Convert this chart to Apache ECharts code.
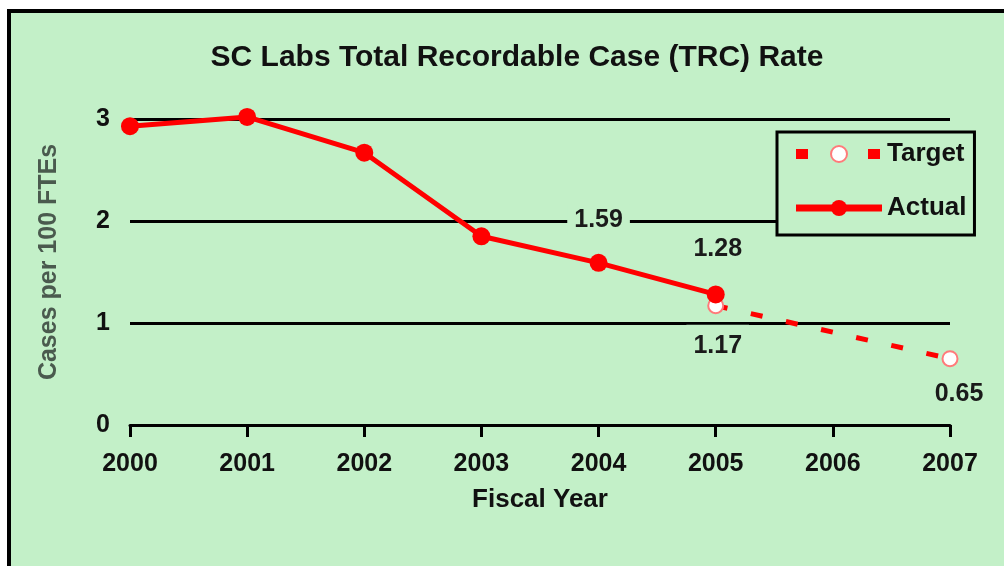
<!DOCTYPE html>
<html>
<head>
<meta charset="utf-8">
<script src="https://cdn.jsdelivr.net/npm/echarts@6/dist/echarts.min.js"></script>
<style>
  html, body { margin: 0; padding: 0; background: #ffffff; width: 1004px; height: 566px; overflow: hidden; }
  #frame { position: absolute; left: 7px; top: 9px; width: 1010px; height: 570px;
           border-left: 4px solid #000; border-top: 4px solid #000; background: #c3f0c8; }
  #chart { position: absolute; left: 0; top: 0; width: 1004px; height: 566px; }
</style>
</head>
<body>
<div id="frame"></div>
<div id="chart"></div>
<script>
const titleText = 'SC Labs Total Recordable Case (TRC) Rate';
const years = ['2000', '2001', '2002', '2003', '2004', '2005', '2006', '2007'];
const actual = [2.93, 3.02, 2.67, 1.85, 1.59, 1.28, null, null];
const target = [null, null, null, null, null, 1.17, null, 0.65];
const yTicks = [0, 1, 2, 3];
const xName = 'Fiscal Year';
const yName = 'Cases per 100 FTEs';

const BG = '#c3f0c8';
const FONT = '"Liberation Sans", Arial, sans-serif';

// label styling by point index (styles kept apart from the data)
const actualLabelStyle = {
  4: { offset: [0, -43], padding: [3, 7] },
  5: { offset: [2, -45], padding: [3, 4] }
};
const targetLabelStyle = {
  5: { offset: [2, 40], padding: [14, 7, 3, 7] },
  7: { offset: [9, 35], padding: [3, 4] }
};

function labelFor(style) {
  return {
    show: true,
    position: 'inside',
    offset: style.offset,
    padding: style.padding,
    backgroundColor: BG,
    color: '#1a1a1a',
    fontFamily: FONT,
    fontWeight: 'bold',
    fontSize: 25,
    formatter: p => p.value.toFixed(2)
  };
}

function buildData(values, styles) {
  return values.map((v, i) => {
    if (v === null) return null;
    const item = { value: v };
    item.label = styles[i] ? labelFor(styles[i]) : { show: false };
    return item;
  });
}

const chart = echarts.init(document.getElementById('chart'), null, { renderer: 'canvas' });
chart.setOption({
  backgroundColor: 'transparent',
  animation: false,
  title: {
    text: titleText,
    left: 512,
    top: 38,
    textAlign: 'center',
    textStyle: { fontFamily: FONT, fontWeight: 'bold', fontSize: 30, color: '#111' }
  },
  legend: {
    orient: 'vertical',
    left: 777,
    top: 132,
    padding: [9, 8, 14, 14],
    itemGap: 28,
    itemWidth: 86,
    itemHeight: 20,
    borderColor: '#000',
    borderWidth: 3,
    backgroundColor: BG,
    textStyle: { fontFamily: FONT, fontWeight: 'bold', fontSize: 26, color: '#111', lineHeight: 26 },
    data: [
      { name: 'Target', lineStyle: { width: 10, type: [12, 24], color: '#ff0000' } },
      { name: 'Actual', lineStyle: { width: 7, color: '#ff0000' } }
    ]
  },
  grid: { left: 130, right: 54, top: 119, bottom: 141, containLabel: false },
  xAxis: {
    type: 'category',
    data: years,
    boundaryGap: false,
    name: xName,
    nameLocation: 'middle',
    nameGap: 62,
    nameTextStyle: { fontFamily: FONT, fontWeight: 'bold', fontSize: 26, color: '#111' },
    axisLine: { lineStyle: { color: '#000', width: 3 } },
    axisTick: { show: true, length: 12, lineStyle: { color: '#000', width: 3 } },
    axisLabel: { margin: 27, fontFamily: FONT, fontWeight: 'bold', fontSize: 25, color: '#111' },
    splitLine: { show: false }
  },
  yAxis: {
    type: 'value',
    min: yTicks[0],
    max: yTicks[yTicks.length - 1],
    interval: 1,
    name: yName,
    nameLocation: 'middle',
    nameGap: 68,
    nameTextStyle: { fontFamily: FONT, fontWeight: 'bold', fontSize: 25, color: '#4a5a4e', padding: [0, 0, 0, 20] },
    axisLine: { show: false },
    axisTick: { show: false },
    axisLabel: { margin: 20, fontFamily: FONT, fontWeight: 'bold', fontSize: 25, color: '#111' },
    splitLine: { show: true, lineStyle: { color: '#000', width: 3 } }
  },
  series: [
    {
      name: 'Target',
      type: 'line',
      data: buildData(target, targetLabelStyle),
      connectNulls: true,
      clip: false,
      symbol: 'circle',
      symbolSize: 15,
      itemStyle: { color: '#ffffff', borderColor: '#ff7a7a', borderWidth: 2 },
      lineStyle: { color: '#ff0000', width: 5, type: [12, 24] },
      z: 2
    },
    {
      name: 'Actual',
      type: 'line',
      data: buildData(actual, actualLabelStyle),
      clip: false,
      symbol: 'circle',
      symbolSize: 18,
      itemStyle: { color: '#ff0000', borderColor: '#ff0000', borderWidth: 0 },
      lineStyle: { color: '#ff0000', width: 5 },
      z: 3
    }
  ]
});
</script>
</body>
</html>
